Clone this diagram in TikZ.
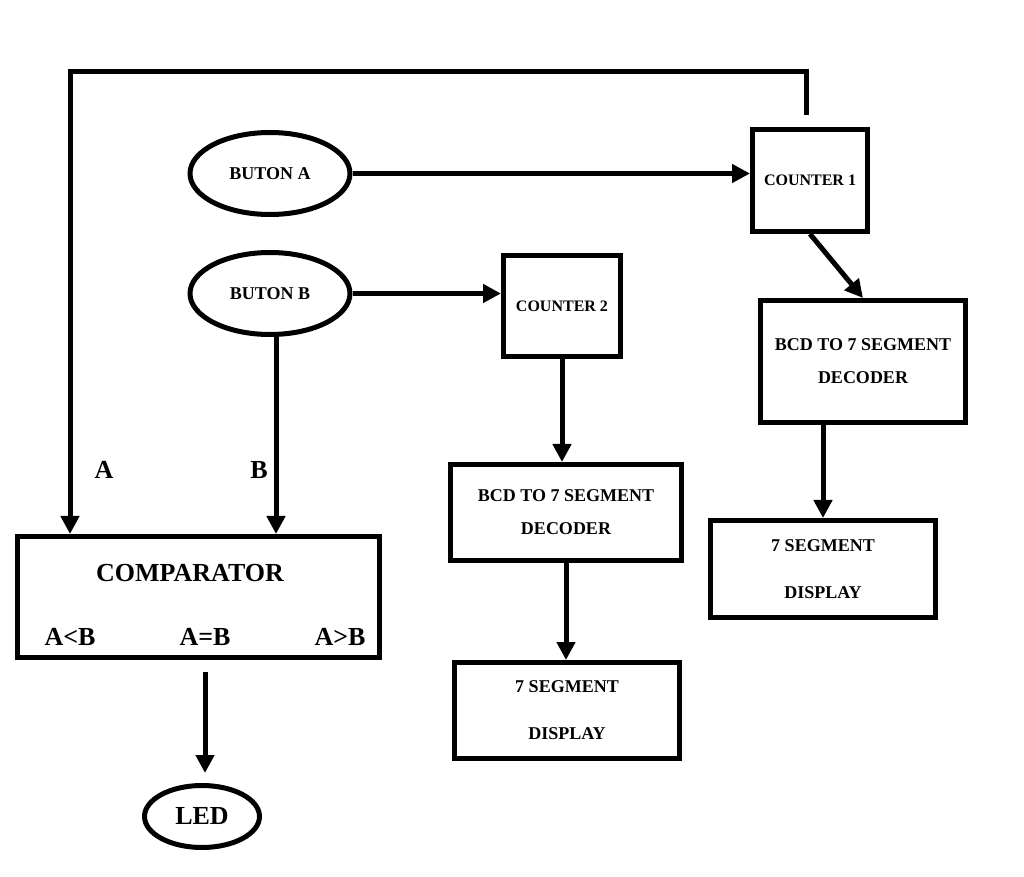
\documentclass[tikz,border=0pt]{standalone}
\usepackage{fontspec}
\setmainfont{Liberation Serif}
\usetikzlibrary{shapes.geometric, arrows.meta, calc}
\newcommand{\BcdDec}{BCD TO 7 SEGMENT\\[5.5pt]DECODER}
\newcommand{\SegDisp}{7 SEGMENT\\[12.5pt]DISPLAY}
\newcommand{\SmallTxt}{\fontsize{9}{11}\selectfont\bfseries}
\newcommand{\CntTxt}{\fontsize{8}{10}\selectfont\bfseries}
\newcommand{\BigTxt}{\fontsize{13}{15}\selectfont\bfseries}

\begin{document}
\begin{tikzpicture}[x=0.5pt,y=-0.5pt,->,>={Triangle[length=9pt,width=9pt]},line width=2.5pt,
  box/.style={draw, rectangle, align=center, inner sep=0pt, font=\SmallTxt},
  oval/.style={draw, ellipse, inner sep=0pt, minimum width=80pt, minimum height=41pt, font=\SmallTxt},
  lbl/.style={font=\BigTxt}]
  \useasboundingbox (0,0) rectangle (1024,877);

  \node[oval]                                          (ButonA)   at (270,173.5) {BUTON A};
  \node[oval]                                          (ButonB)   at (270,293.5) {BUTON B};
  \node[box, minimum width=57.5pt, minimum height=51pt, font=\CntTxt]   (CounterA) at (810,180.5) {COUNTER 1};
  \node[box, minimum width=58.5pt, minimum height=50.5pt, font=\CntTxt] (CounterB) at (562,306)   {COUNTER 2};
  \node[box, minimum width=102.5pt, minimum height=61pt]  (DecA)  at (863,361.5) {\BcdDec};
  \node[box, minimum width=112.5pt, minimum height=48.5pt] (DispA) at (823,569)  {\SegDisp};
  \node[box, minimum width=115.5pt, minimum height=48pt]  (DecB)  at (566,512.5) {\BcdDec};
  \node[box, minimum width=112.5pt, minimum height=48pt]  (DispB) at (567,710.5) {\SegDisp};
  \node[box, minimum width=181pt, minimum height=60.5pt]  (Comp)  at (198.5,597) {};
  \node[lbl] (CompName) at (190,573) {COMPARATOR};
  \node[lbl] (Lt)       at (70,637)  {A<B};
  \node[lbl] (Eq)       at (205,637) {A=B};
  \node[lbl] (Gt)       at (340,637) {A>B};
  \node[lbl] (InA)      at (104,470) {A};
  \node[lbl] (InB)      at (259,470) {B};
  \node[oval, minimum width=57.5pt, minimum height=31pt, font=\BigTxt] (Led) at (202,816.5) {LED};
  \coordinate (Fb) at (806,115);

  \draw (ButonA.east) -- (ButonA.east -| CounterA.west);
  \draw (ButonB.east) -- (ButonB.east -| CounterB.west);
  \draw (CounterA.south) -- (DecA.north);
  \draw (DispA.north |- DecA.south) -- (DispA.north);
  \draw (CounterB.south) -- (CounterB.south |- DecB.north);
  \draw (DecB.south) -- (DecB.south |- DispB.north);
  \draw ([xshift=3pt]ButonB.south) -- ([xshift=3pt]ButonB.south |- Comp.north);
  \draw (Fb) -- ++(0,-43) -| ($(Comp.north west)+(55,0)$);
  \draw[shorten <=6pt, shorten >=5pt] ([xshift=1.5pt]Led.north |- Comp.south) -- ([xshift=1.5pt]Led.north);
\end{tikzpicture}
\end{document}
